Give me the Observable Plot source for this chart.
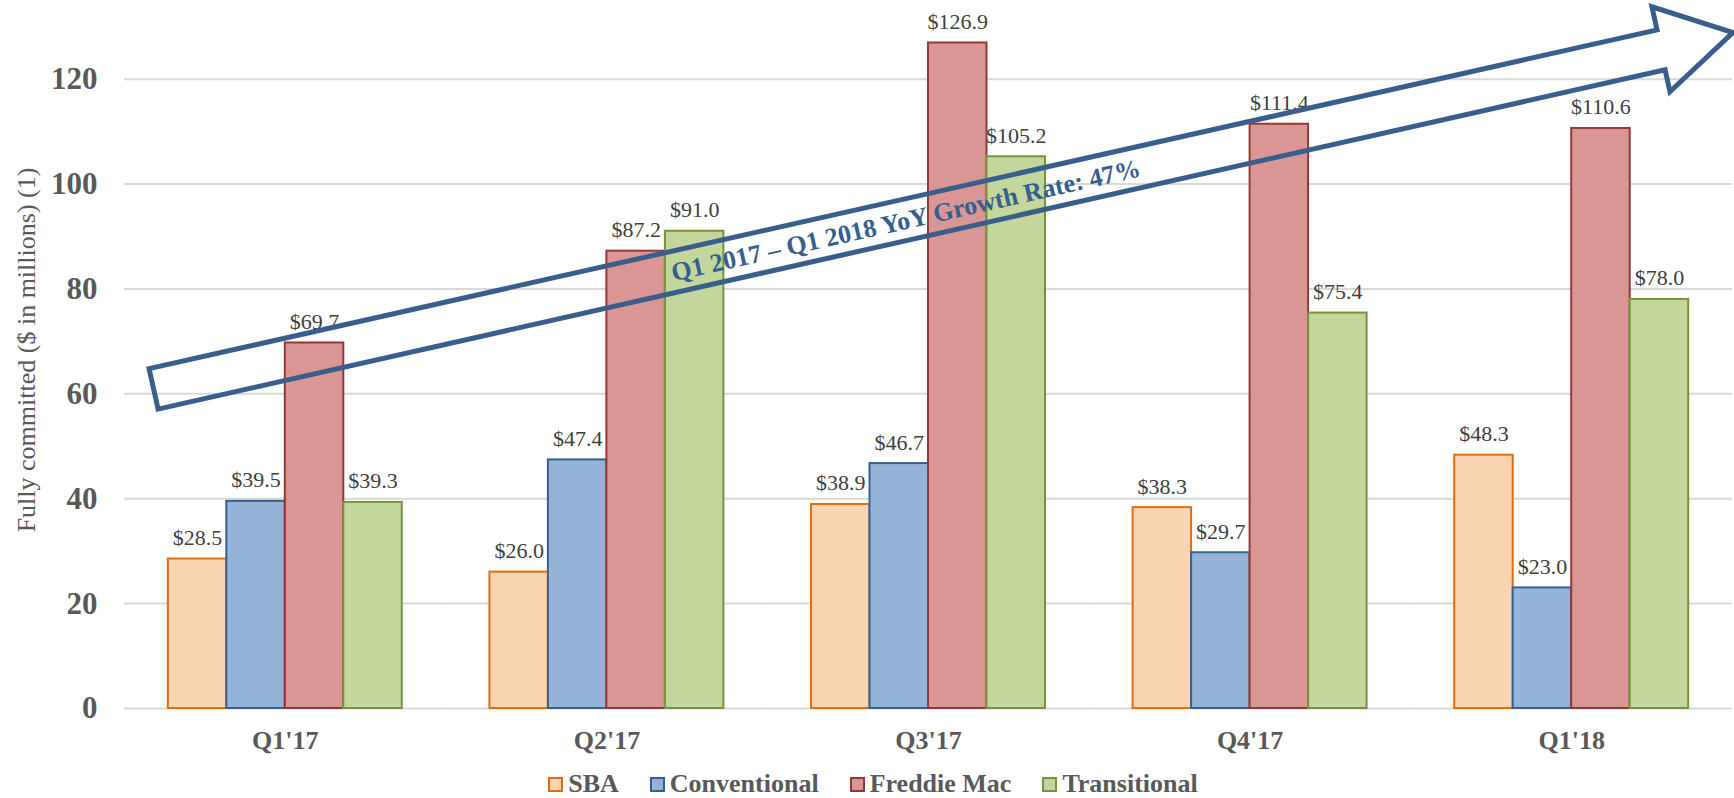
<!DOCTYPE html>
<html>
<head>
<meta charset="utf-8">
<script src="https://cdn.jsdelivr.net/npm/d3@7"></script>
<script src="https://cdn.jsdelivr.net/npm/@observablehq/plot@0.6"></script>
<style>
  body { margin: 0; background: #fff; }
  #chart svg { display: block; }
  #legend { display: flex; justify-content: center; align-items: center; height: 52px; padding-left: 12px;
    font-family: "Liberation Serif", "Times New Roman", serif; font-weight: bold; font-size: 26px; color: #595959; }
  .item { display: flex; align-items: center; margin: 0 15.5px; }
  .sw { width: 15px; height: 15px; box-sizing: border-box; border: 2px solid; margin-right: 5px; }
</style>
</head>
<body>
<div id="chart"></div>
<div id="legend"></div>
<script>
const quarters = ["Q1'17", "Q2'17", "Q3'17", "Q4'17", "Q1'18"];
const series = ["SBA", "Conventional", "Freddie Mac", "Transitional"];
const sba = [28.5, 26.0, 38.9, 38.3, 48.3];
const conventional = [39.5, 47.4, 46.7, 29.7, 23.0];
const freddieMac = [69.7, 87.2, 126.9, 111.4, 110.6];
const transitional = [39.3, 91.0, 105.2, 75.4, 78.0];
const yTicks = [0, 20, 40, 60, 80, 100, 120];
const fills = ["#FBD4B4", "#95B3D7", "#D99694", "#C3D69B"];
const strokes = ["#E46C0A", "#376092", "#953735", "#77933C"];
const yLabel = "Fully committed ($ in millions) (1)";
const annotation = "Q1 2017 – Q1 2018 YoY Growth Rate: 47%";
// growth arrow outline: x in quarter steps from first quarter centre, y in $ millions
const arrowX = [-0.422, 4.267, 4.251, 4.503, 4.307, 4.292, -0.394];
const arrowY = [64.7, 129.3, 133.7, 128.8, 117.5, 121.7, 57.0];
const annotationAt = [1.937, 91.4];

const valuesBySeries = [sba, conventional, freddieMac, transitional];
const data = [];
series.forEach((s, i) => quarters.forEach((q, j) => data.push({quarter: q, series: s, value: valuesBySeries[i][j]})));

const font = '"Liberation Serif", "Times New Roman", serif';

const chart = Plot.plot({
  width: 1734,
  height: 758,
  marginLeft: 124,
  marginRight: 2,
  marginTop: 0,
  marginBottom: 50,
  style: {fontFamily: font, background: "white"},
  fx: {domain: quarters, padding: 0, round: false},
  x: {domain: series, paddingInner: 0, paddingOuter: 0.749, axis: null, round: false},
  y: {domain: [0, 135]},
  marks: [
    Plot.gridY(yTicks, {stroke: "#d9d9d9", strokeOpacity: 1, strokeWidth: 2}),
    ...series.map((s, i) => Plot.barY(data.filter(d => d.series === s), {
      fx: "quarter", x: "series", y: "value",
      fill: fills[i], stroke: strokes[i], strokeWidth: 2
    })),
    Plot.text(data, {
      fx: "quarter", x: "series", y: "value",
      text: d => "$" + d.value.toFixed(1),
      dy: -14, lineAnchor: "bottom", fontSize: 22, fill: "#404040"
    }),
    Plot.axisY(yTicks, {tickSize: 0, tickPadding: 27, fontSize: 31, fontWeight: "bold", color: "#595959", label: null}),
    Plot.axisFx({anchor: "bottom", tickSize: 0, tickPadding: 22, fontSize: 26, fontWeight: "bold", color: "#595959", label: null})
  ]
});

document.getElementById("chart").append(chart);

// annotation arrow through the chart's own scales
const fx = chart.scale("fx");
const ys = chart.scale("y");
const step = fx.apply(quarters[1]) - fx.apply(quarters[0]);
const x0 = fx.apply(quarters[0]) + fx.bandwidth / 2;
const px = g => x0 + g * step;
const pts = arrowX.map((g, i) => [px(g), ys.apply(arrowY[i])]);
const svg = d3.select(chart);
svg.append("path")
  .attr("d", d3.line()(pts) + "Z")
  .attr("fill", "none")
  .attr("stroke", "#395E8C")
  .attr("stroke-width", 5)
  .attr("stroke-linejoin", "miter");
const angle = Math.atan2(pts[1][1] - pts[0][1], pts[1][0] - pts[0][0]) * 180 / Math.PI;
const tx = px(annotationAt[0]), ty = ys.apply(annotationAt[1]);
svg.append("text")
  .attr("transform", `translate(${tx},${ty}) rotate(${angle})`)
  .attr("text-anchor", "middle")
  .attr("font-family", font)
  .attr("font-weight", "bold")
  .attr("font-size", 26)
  .attr("fill", "#34608F")
  .text(annotation);

// y axis title
const yr = ys.range;
svg.append("text")
  .attr("transform", `translate(35,${(yr[0] + yr[1]) / 2 - 4}) rotate(-90)`)
  .attr("text-anchor", "middle")
  .attr("font-family", font)
  .attr("font-size", 26)
  .attr("fill", "#595959")
  .text(yLabel);

// legend
const legend = d3.select("#legend");
series.forEach((s, i) => {
  const it = legend.append("div").attr("class", "item");
  it.append("div").attr("class", "sw").style("background", fills[i]).style("border-color", strokes[i]);
  it.append("span").text(s);
});
</script>
</body>
</html>
